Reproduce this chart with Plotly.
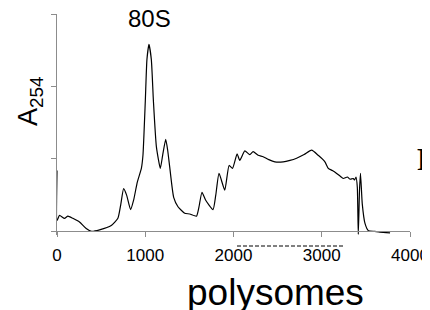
import plotly.graph_objects as go

# Sedimentation position (arbitrary units along gradient) and A254 absorbance (arb. units)
position = [0, 1, 28, 85, 123, 179, 255, 331, 392, 482, 615, 690, 721, 755, 789, 834, 868,
            910, 956, 974, 1001, 1019, 1042, 1069, 1092, 1126, 1171, 1197, 1232, 1254, 1277,
            1322, 1371, 1447, 1504, 1580, 1606, 1643, 1685, 1768, 1799, 1836, 1901, 1950,
            1989, 2041, 2071, 2128, 2185, 2222, 2279, 2336, 2400, 2469, 2563, 2640, 2715,
            2800, 2885, 2960, 3036, 3074, 3120, 3169, 3210, 3244, 3290, 3320, 3357, 3372,
            3388, 3403, 3414, 3428, 3439, 3459, 3490, 3528, 3600, 3660, 3774]
absorbance = [0.84, 0.15, 0.22, 0.18, 0.21, 0.18, 0.13, 0.04, 0.0, 0.02, 0.08, 0.18, 0.36,
              0.59, 0.50, 0.30, 0.43, 0.68, 0.87, 1.05, 1.81, 2.37, 2.58, 2.37, 1.81, 1.17,
              0.87, 1.05, 1.27, 1.12, 0.89, 0.47, 0.34, 0.25, 0.24, 0.21, 0.32, 0.54, 0.43,
              0.30, 0.50, 0.80, 0.57, 0.91, 0.87, 1.07, 0.98, 1.11, 1.06, 1.10, 1.05, 1.03,
              0.99, 0.96, 0.96, 0.98, 1.01, 1.06, 1.12, 1.05, 0.96, 0.87, 0.84, 0.80, 0.76,
              0.73, 0.75, 0.72, 0.73, 0.71, 0.75, 0.61, -0.04, 0.57, 0.80, 0.38, 0.11, 0.01,
              0.0, -0.01, -0.02]

x_ticks = [0, 1000, 2000, 3000, 4000]
y_ticks = [0, 1, 2, 3]

# page body has an 8px margin, so the figure is offset by 8px; compensate in margins
L, T, PW, PH = 49, 6, 353, 221

fig = go.Figure()
fig.add_trace(go.Scatter(x=position, y=absorbance, mode="lines",
                         line=dict(color="black", width=1.2, shape="spline", smoothing=0.5),
                         showlegend=False, hoverinfo="skip"))

fig.update_layout(
    width=430, height=310,
    margin=dict(l=L, r=430 - L - PW, t=T, b=310 - T - PH, autoexpand=False),
    paper_bgcolor="white", plot_bgcolor="white",
    font=dict(family="Liberation Sans, Arial, sans-serif", color="black"),
    xaxis=dict(range=[0, 4000], tickvals=x_ticks, ticktext=[str(v) for v in x_ticks],
               showgrid=False, zeroline=False, showline=True, linecolor="#8c8c8c",
               linewidth=1, ticks="outside", ticklen=5, tickcolor="#8c8c8c",
               tickfont=dict(size=17), ticklabelstandoff=3, automargin=False,
               anchor="free", position=0.05 / 3.05),
    yaxis=dict(range=[-0.05, 3.0], tickvals=y_ticks, showticklabels=False,
               showgrid=False, zeroline=False, showline=True, linecolor="#8c8c8c",
               linewidth=1, ticks="outside", ticklen=5, tickcolor="#8c8c8c",
               automargin=False),
    shapes=[dict(type="line", xref="paper", yref="paper", x0=(237 - 57) / PW,
                 x1=(345 - 57) / PW, y0=-(246 - 235) / PH, y1=-(246 - 235) / PH,
                 line=dict(color="black", width=1, dash="4px,2px"))],
    annotations=[
        dict(text="80S", xref="paper", yref="paper", x=(149 - 57) / PW, y=1.0,
             yanchor="middle", xanchor="center", showarrow=False, yshift=-4.5,
             font=dict(size=24)),
        dict(text="polysomes", xref="paper", yref="paper", x=(275 - 57) / PW,
             y=0, yanchor="top", xanchor="center", showarrow=False, yshift=-35,
             font=dict(size=37)),
        dict(text="A<sub>254</sub>", xref="paper", yref="paper", x=0, xshift=-27,
             y=(235 - 101) / PH, yanchor="middle", xanchor="center",
             textangle=-90, showarrow=False, font=dict(size=27)),
        dict(text="<b>F</b>", xref="paper", yref="paper", x=(415 - 57) / PW,
             y=(235 - 159) / PH, xanchor="left", yanchor="middle", showarrow=False,
             font=dict(size=32, family="Liberation Serif, Times New Roman, serif")),
    ],
)

fig.write_html("out.html")
